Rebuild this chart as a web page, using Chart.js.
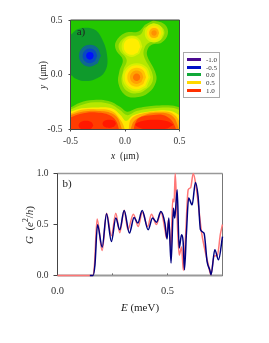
<!DOCTYPE html>
<html lang="en">
<head>
  <meta charset="UTF-8">
  <title>Potential map and conductance</title>
  <script src="https://cdn.jsdelivr.net/npm/chart.js"></script>
  <style>
    body { margin: 0; background: #fff; font-family: "Liberation Serif", serif; color: #222; }
    #page { position: relative; width: 269px; height: 343px; overflow: hidden; }
    canvas { position: absolute; left: 0; }
    .label { position: absolute; white-space: nowrap; transform: translate(-50%, -50%); }
    .rot { transform: translate(-50%, -50%) rotate(-90deg); }
    sup { font-size: 70%; line-height: 0; }
    #legend { position: absolute; left: 183px; top: 52px; width: 35px; height: 44px; border: 1px solid #aaa; }
    #legend div { position: absolute; left: 22px; font-size: 7px; line-height: 8px; color: #333; }
    #legend span { position: absolute; left: -19px; top: 2px; width: 14px; height: 3px; }
  </style>
</head>
<body>
<div id="page">
  <canvas id="mapChart" width="269" height="160" style="top:0"></canvas>
  <canvas id="lineChart" width="269" height="183" style="top:160px"></canvas>
  <div class="label" style="left:81px;top:31px;font-size:11px">a)</div>
  <div class="label" style="left:67px;top:183px;font-size:11px">b)</div>
  <div class="label" style="left:125px;top:156px;font-size:9.5px"><i>x</i>&nbsp; (μm)</div>
  <div class="label rot" style="left:43px;top:75px;font-size:9.5px"><i>y</i>&nbsp; (μm)</div>
  <div class="label" style="left:140px;top:307px;font-size:11px"><i>E</i> (meV)</div>
  <div class="label rot" style="left:29px;top:225px;font-size:11px"><i>G</i> &nbsp;(<i>e</i><sup>2</sup>/<i>h</i>)</div>
  <div id="legend"></div>
</div>

<script>
  // panel a: contour outlines in um, lowest level first
  const baseArea = [[-0.7,-0.7],[0.7,-0.7],[0.7,0.7],[-0.7,0.7]];
  const lowRegion = [[-0.6,0.33],[-0.5,0.365],[-0.43,0.417],[-0.29,0.417],[-0.215,0.335],[-0.163,0.167],[-0.184,0.029],[-0.276,-0.041],[-0.383,-0.057],[-0.46,-0.032],[-0.5,-0.002],[-0.6,-0.02]];
  const wellOuter = [[-0.222,0.173],[-0.251,0.244],[-0.322,0.273],[-0.393,0.244],[-0.422,0.173],[-0.393,0.102],[-0.322,0.073],[-0.251,0.102]];
  const wellMiddle = [[-0.255,0.173],[-0.275,0.22],[-0.322,0.24],[-0.369,0.22],[-0.389,0.173],[-0.369,0.126],[-0.322,0.106],[-0.275,0.126]];
  const wellInner = [[-0.287,0.173],[-0.297,0.198],[-0.322,0.208],[-0.347,0.198],[-0.357,0.173],[-0.347,0.148],[-0.322,0.138],[-0.297,0.148]];

  const dotsLevel1 = [[0.261,0.497],[0.368,0.457],[0.393,0.372],[0.337,0.295],[0.245,0.274],[0.206,0.228],[0.206,0.167],[0.276,0.029],[0.285,-0.063],[0.215,-0.164],[0.107,-0.206],[0,-0.185],[-0.061,-0.078],[-0.052,0.029],[-0.021,0.136],[-0.083,0.228],[-0.083,0.304],[0,0.381],[0.123,0.396],[0.184,0.457]];
  const dotsLevel2 = [[0.261,0.472],[0.347,0.427],[0.359,0.365],[0.307,0.304],[0.224,0.295],[0.178,0.243],[0.175,0.167],[0.245,0.029],[0.252,-0.063],[0.184,-0.139],[0.107,-0.17],[0.015,-0.145],[-0.031,-0.063],[-0.015,0.044],[0.015,0.136],[-0.052,0.228],[-0.052,0.289],[0.015,0.35],[0.138,0.365],[0.175,0.427]];

  const midDotA = [[0.159,0.258],[0.131,0.325],[0.064,0.353],[-0.003,0.325],[-0.031,0.258],[-0.003,0.191],[0.064,0.163],[0.131,0.191]];
  const midDotB = [[0.14,0.258],[0.118,0.312],[0.064,0.334],[0.01,0.312],[-0.012,0.258],[0.01,0.204],[0.064,0.182],[0.118,0.204]];

  const lowDotA = [[0.236,-0.023],[0.198,0.068],[0.107,0.106],[0.016,0.068],[-0.022,-0.023],[0.016,-0.114],[0.107,-0.152],[0.198,-0.114]];
  const lowDotB = [[0.217,-0.023],[0.185,0.055],[0.107,0.087],[0.029,0.055],[-0.003,-0.023],[0.029,-0.101],[0.107,-0.133],[0.185,-0.101]];
  const lowDotC = [[0.193,-0.023],[0.168,0.038],[0.107,0.063],[0.046,0.038],[0.021,-0.023],[0.046,-0.084],[0.107,-0.109],[0.168,-0.084]];
  const lowDotD = [[0.168,-0.023],[0.15,0.02],[0.107,0.038],[0.064,0.02],[0.046,-0.023],[0.064,-0.066],[0.107,-0.084],[0.15,-0.066]];
  const lowDotE = [[0.141,-0.023],[0.131,0.001],[0.107,0.011],[0.083,0.001],[0.073,-0.023],[0.083,-0.047],[0.107,-0.057],[0.131,-0.047]];

  const topDotA = [[0.353,0.381],[0.328,0.442],[0.267,0.467],[0.206,0.442],[0.181,0.381],[0.206,0.32],[0.267,0.295],[0.328,0.32]];
  const topDotB = [[0.334,0.381],[0.314,0.428],[0.267,0.448],[0.22,0.428],[0.2,0.381],[0.22,0.334],[0.267,0.314],[0.314,0.334]];
  const topDotC = [[0.313,0.381],[0.3,0.414],[0.267,0.427],[0.234,0.414],[0.221,0.381],[0.234,0.348],[0.267,0.335],[0.3,0.348]];
  const topDotD = [[0.292,0.381],[0.285,0.399],[0.267,0.406],[0.249,0.399],[0.242,0.381],[0.249,0.363],[0.267,0.356],[0.285,0.363]];

  const edgeLevel1 = [[-0.6,-0.33],[-0.5,-0.298],[-0.414,-0.255],[-0.291,-0.231],[-0.153,-0.24],[-0.046,-0.292],[0.021,-0.338],[0.107,-0.307],[0.261,-0.283],[0.429,-0.28],[0.5,-0.298],[0.6,-0.33],[0.6,-0.7],[-0.6,-0.7]];
  const edgeLevel2 = [[-0.6,-0.35],[-0.5,-0.317],[-0.414,-0.28],[-0.276,-0.252],[-0.138,-0.268],[-0.046,-0.323],[0.021,-0.369],[0.107,-0.332],[0.261,-0.307],[0.429,-0.302],[0.5,-0.323],[0.6,-0.36],[0.6,-0.7],[-0.6,-0.7]];
  const edgeLevel3 = [[-0.6,-0.37],[-0.5,-0.338],[-0.399,-0.307],[-0.261,-0.298],[-0.123,-0.307],[-0.04,-0.369],[0.009,-0.42],[0.077,-0.369],[0.261,-0.332],[0.414,-0.329],[0.5,-0.369],[0.6,-0.42],[0.6,-0.7],[-0.6,-0.7]];
  const goldLeft = [[-0.6,-0.38],[-0.5,-0.355],[-0.399,-0.32],[-0.261,-0.315],[-0.123,-0.33],[-0.055,-0.395],[-0.005,-0.491],[0.005,-0.7],[-0.6,-0.7]];
  const goldRight = [[0.025,-0.7],[0.035,-0.49],[0.061,-0.40],[0.169,-0.352],[0.322,-0.335],[0.429,-0.35],[0.5,-0.43],[0.6,-0.7]];
  const orangeLeft = [[-0.6,-0.39],[-0.5,-0.367],[-0.383,-0.335],[-0.245,-0.33],[-0.123,-0.352],[-0.05,-0.43],[-0.025,-0.7],[-0.6,-0.7]];
  const orangeRight = [[0.045,-0.7],[0.065,-0.455],[0.169,-0.372],[0.322,-0.347],[0.429,-0.372],[0.482,-0.46],[0.52,-0.7]];
  const hotLeft = [[-0.6,-0.42],[-0.5,-0.39],[-0.414,-0.358],[-0.261,-0.345],[-0.123,-0.38],[-0.063,-0.47],[-0.05,-0.7],[-0.6,-0.7]];
  const hotRight = [[0.075,-0.7],[0.105,-0.42],[0.261,-0.368],[0.383,-0.382],[0.462,-0.48],[0.49,-0.7]];
  const peakA = [[-0.29,-0.463],[-0.31,-0.432],[-0.358,-0.42],[-0.406,-0.432],[-0.426,-0.463],[-0.406,-0.494],[-0.358,-0.506],[-0.31,-0.494]];
  const peakB = [[-0.082,-0.448],[-0.1,-0.42],[-0.144,-0.41],[-0.188,-0.42],[-0.206,-0.448],[-0.188,-0.476],[-0.144,-0.486],[-0.1,-0.476]];
  const peakC = [[0.445,-0.457],[0.39,-0.425],[0.27,-0.412],[0.15,-0.425],[0.095,-0.457],[0.15,-0.49],[0.27,-0.505],[0.39,-0.49]];

  const mapLayers = [
    [baseArea, "#23c800"], [lowRegion, "#0f9a2c"], [wellOuter, "#0f6a8c"], [wellMiddle, "#0848c0"], [wellInner, "#0010ff"],
    [edgeLevel1, "#7fd800"], [edgeLevel2, "#b6e800"], [edgeLevel3, "#ffe800"],
    [goldLeft, "#ffb400"], [goldRight, "#ffb400"], [orangeLeft, "#ff7a00"], [orangeRight, "#ff7a00"],
    [hotLeft, "#ff3c00"], [hotRight, "#ff3c00"], [peakA, "#ff1800"], [peakB, "#ff1800"], [peakC, "#ff1800"],
    [dotsLevel1, "#7fd800"], [dotsLevel2, "#b6e800"], [midDotA, "#d8f000"], [midDotB, "#ffee00"],
    [lowDotA, "#d8f000"], [lowDotB, "#ffe800"], [lowDotC, "#ffc400"], [lowDotD, "#ffa200"], [lowDotE, "#ff7400"],
    [topDotA, "#d8f000"], [topDotB, "#ffe000"], [topDotC, "#ffb000"], [topDotD, "#ff9000"]
  ];

  const legendLevels = ["-1.0", "-0.5", "0.0", "0.5", "1.0"];
  const legendColors = ["#4a0a90", "#0010c8", "#10a838", "#ffd800", "#ff3000"];

  // panel b: conductance traces
  const blueEnergy = [0.147,0.162,0.170,0.182,0.203,0.223,0.245,0.265,0.283,0.303,0.327,0.348,0.365,0.385,0.412,0.432,0.45,0.47,0.488,0.498,0.506,0.516,0.527,0.533,0.544,0.553,0.564,0.571,0.577,0.586,0.596,0.612,0.627,0.639,0.65,0.666,0.68,0.692,0.698,0.715,0.732,0.75];
  const blueG = [0,0,0.1,0.497,0.278,0.605,0.333,0.563,0.448,0.637,0.416,0.569,0.514,0.637,0.448,0.563,0.523,0.627,0.514,0.357,0.563,0.122,0.66,0.563,0.84,0.269,0.399,0.333,0.056,0.416,0.759,0.693,0.912,0.775,0.448,0.416,0.137,0.056,0.007,0.252,0.154,0.382];
  const redEnergy = [0,0.16,0.168,0.18,0.203,0.223,0.245,0.265,0.283,0.303,0.32,0.345,0.367,0.385,0.41,0.427,0.45,0.47,0.49,0.495,0.505,0.515,0.524,0.53,0.535,0.541,0.553,0.564,0.572,0.582,0.594,0.605,0.617,0.63,0.64,0.655,0.67,0.685,0.697,0.712,0.727,0.74,0.75];
  const redG = [0,0,0.1,0.553,0.245,0.61,0.39,0.61,0.42,0.64,0.45,0.6,0.48,0.62,0.48,0.6,0.5,0.62,0.43,0.37,0.55,0.27,0.75,0.72,1,0.72,0.2,0.28,0.05,0.38,0.84,0.86,1,0.87,0.7,0.42,0.25,0.11,0.01,0.19,0.2,0.4,0.5];

  const tickFont = { family: "'Liberation Serif', serif", size: 9.5 };
  const tickColor = "#333";

  function toXY(pairs) {
    return pairs.map(p => ({ x: p[0], y: p[1] }));
  }

  function fixSize(width, height) {
    return scale => {
      if (width) scale.width = width;
      if (height) scale.height = height;
    };
  }

  // the frame around a panel, one colour per side
  function framePlugin(id, sides, hook) {
    return {
      id: id,
      [hook](chart) {
        const a = chart.chartArea, c = chart.ctx;
        const lines = [
          [a.left, a.top, a.right, a.top, sides.top],
          [a.right, a.top, a.right, a.bottom, sides.right],
          [a.left, a.bottom, a.right, a.bottom, sides.bottom],
          [a.left, a.top, a.left, a.bottom, sides.left]
        ];
        c.save();
        lines.forEach(l => {
          c.strokeStyle = l[4][0];
          c.lineWidth = l[4][1];
          c.beginPath();
          c.moveTo(l[0], l[1]);
          c.lineTo(l[2], l[3]);
          c.stroke();
        });
        c.restore();
      }
    };
  }

  new Chart(document.getElementById("mapChart"), {
    type: "scatter",
    data: {
      datasets: mapLayers.map((layer, i) => ({
        data: toXY(layer[0]),
        showLine: true,
        fill: "shape",
        backgroundColor: layer[1],
        borderWidth: 0,
        pointRadius: 0,
        tension: layer[0] === baseArea ? 0 : 0.4,
        order: mapLayers.length - i
      }))
    },
    options: {
      responsive: false,
      animation: false,
      layout: { padding: { top: 20, right: 89.5, left: 0, bottom: 0 } },
      plugins: { legend: { display: false }, tooltip: { enabled: false } },
      scales: {
        x: {
          min: -0.5, max: 0.5,
          afterBuildTicks: s => { s.ticks = [{ value: -0.5 }, { value: 0 }, { value: 0.5 }]; },
          afterFit: fixSize(null, 30.5),
          grid: { drawOnChartArea: false, tickLength: 2, color: "#444" },
          border: { display: false },
          ticks: { font: tickFont, color: tickColor, padding: 4, maxRotation: 0, callback: v => v.toFixed(1) }
        },
        y: {
          min: -0.5, max: 0.5,
          afterBuildTicks: s => { s.ticks = [{ value: -0.5 }, { value: 0 }, { value: 0.5 }]; },
          afterFit: fixSize(70.5, null),
          grid: { drawOnChartArea: false, tickLength: 2, color: "#444" },
          border: { display: false },
          ticks: { font: tickFont, color: tickColor, padding: 6, callback: v => v.toFixed(1) }
        }
      }
    },
    plugins: [framePlugin("mapFrame", { top: ["#444", 1], right: ["#444", 1], bottom: ["#444", 1], left: ["#444", 1] }, "afterDatasetsDraw")]
  });

  new Chart(document.getElementById("lineChart"), {
    type: "scatter",
    data: {
      datasets: [
        {
          data: blueEnergy.map((e, i) => ({ x: e, y: blueG[i] })),
          showLine: true, borderColor: "#000080", borderWidth: 1.5, pointRadius: 0,
          cubicInterpolationMode: "monotone", clip: false, order: 1
        },
        {
          data: redEnergy.map((e, i) => ({ x: e, y: redG[i] })),
          showLine: true, borderColor: "#ff7676", borderWidth: 1.5, pointRadius: 0,
          cubicInterpolationMode: "monotone", clip: false, order: 2
        }
      ]
    },
    options: {
      responsive: false,
      animation: false,
      layout: { padding: { top: 13.5, right: 46.5, left: 0, bottom: 0 } },
      plugins: { legend: { display: false }, tooltip: { enabled: false } },
      scales: {
        x: {
          min: 0, max: 0.75,
          afterBuildTicks: s => { s.ticks = [{ value: 0 }, { value: 0.25 }, { value: 0.5 }, { value: 0.75 }]; },
          afterFit: fixSize(null, 67.5),
          grid: { drawOnChartArea: false, tickLength: -2, color: "#444" },
          border: { display: false },
          ticks: { font: { family: tickFont.family, size: 10.5 }, color: tickColor, padding: 11, maxRotation: 0, autoSkip: false,
            callback: v => (v === 0 || v === 0.5) ? v.toFixed(1) : "" }
        },
        y: {
          min: 0, max: 1,
          afterBuildTicks: s => { s.ticks = [{ value: 0 }, { value: 0.5 }, { value: 1 }]; },
          afterFit: fixSize(57.5, null),
          grid: { drawOnChartArea: false, tickLength: 4, color: "#444" },
          border: { display: false },
          ticks: { font: tickFont, color: tickColor, padding: 5, callback: v => v.toFixed(1) }
        }
      }
    },
    plugins: [framePlugin("lineFrame", { top: ["#999", 1.5], right: ["#777", 1], bottom: ["#999", 2], left: ["#444", 1] }, "beforeDatasetsDraw")]
  });

  // legend box next to panel a
  const legendBox = document.getElementById("legend");
  legendLevels.forEach((level, i) => {
    const row = document.createElement("div");
    row.style.top = (3 + i * 7.7) + "px";
    row.textContent = level;
    const swatch = document.createElement("span");
    swatch.style.background = legendColors[i];
    row.appendChild(swatch);
    legendBox.appendChild(row);
  });
</script>
</body>
</html>
